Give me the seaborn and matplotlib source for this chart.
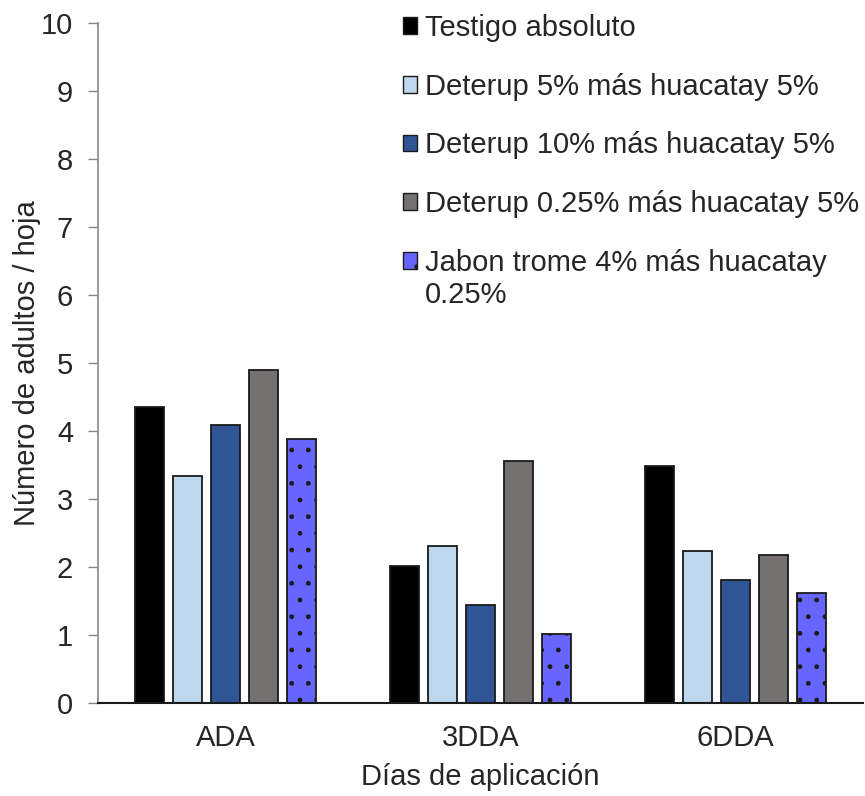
import pandas as pd
import matplotlib
matplotlib.use("Agg")
import matplotlib.pyplot as plt
import seaborn as sns
from matplotlib.patches import Patch

dias = ["ADA", "3DDA", "6DDA"]
tratamientos = [
    "Testigo absoluto",
    "Deterup 5% más huacatay 5%",
    "Deterup 10% más huacatay 5%",
    "Deterup 0.25% más huacatay 5%",
    "Jabon trome 4% más huacatay 0.25%",
]
# texto de la leyenda (la ultima entrada va en dos lineas)
etiquetas = tratamientos[:4] + ["Jabon trome 4% más huacatay"]
etiqueta_extra = "0.25%"

testigo = [4.35, 2.02, 3.49]
deterup_5 = [3.33, 2.31, 2.23]
deterup_10 = [4.08, 1.44, 1.81]
deterup_025 = [4.89, 3.55, 2.18]
jabon = [3.88, 1.01, 1.62]
colores = ["#000000", "#BDD7EE", "#2F5597", "#767171", "#6666FF"]

series = [testigo, deterup_5, deterup_10, deterup_025, jabon]
filas = []
for trat, valores in zip(tratamientos, series):
    for dia, v in zip(dias, valores):
        filas.append({"dia": dia, "tratamiento": trat, "adultos": v})
df = pd.DataFrame(filas)

sns.set_style("white")
plt.rcParams["font.family"] = ["Liberation Sans", "DejaVu Sans"]
plt.rcParams["hatch.linewidth"] = 1.0
FS = 21

fig = plt.figure(figsize=(8.65, 7.96), dpi=100)
ax = fig.add_axes([0.1133, 0.1168, 0.8844, 0.8549])

sns.barplot(
    data=df, x="dia", y="adultos", hue="tratamiento", hue_order=tratamientos,
    order=dias, palette=colores, width=0.745, gap=0.24, ax=ax,
    edgecolor="#1a1a1a", linewidth=1.3, saturation=1, legend=False,
)

# puntos en las barras del jabon
for barra in ax.containers[4]:
    barra.set_hatch(".")

ax.set_ylim(0, 10)
ax.set_xlim(-0.5, 2.5)
ax.set_yticks(range(0, 11))
ax.tick_params(axis="y", labelsize=FS, length=7, width=1, color="#868686",
               left=True, pad=11)
ax.tick_params(axis="x", labelsize=FS, length=0, pad=15)
ax.set_ylabel("Número de adultos / hoja", fontsize=FS, labelpad=0)
ax.set_xlabel("Días de aplicación", fontsize=FS, labelpad=8)

sns.despine(ax=ax)
ax.spines["left"].set_color("#868686")
ax.spines["left"].set_linewidth(1.2)
ax.spines["bottom"].set_color("#1a1a1a")
ax.spines["bottom"].set_linewidth(1.5)

handles = [
    Patch(facecolor=c, edgecolor="#1a1a1a", linewidth=1.0,
          hatch="." if i == 4 else None)
    for i, c in enumerate(colores)
]
leg = fig.legend(
    handles, etiquetas, loc="upper left", bbox_to_anchor=(0.452, 0.997),
    frameon=False, fontsize=FS, handlelength=0.5, handleheight=0.5,
    handletextpad=0.25, labelspacing=1.05, borderaxespad=0,
)

# segunda linea de la ultima entrada
fig.canvas.draw()
caja = leg.get_texts()[4].get_window_extent()
x0, y0 = fig.transFigure.inverted().transform((caja.x0, caja.y0))
fig.text(x0, y0 - 0.006, etiqueta_extra, fontsize=FS, va="top", ha="left")

plt.savefig("out.png", dpi=100)
plt.close()
